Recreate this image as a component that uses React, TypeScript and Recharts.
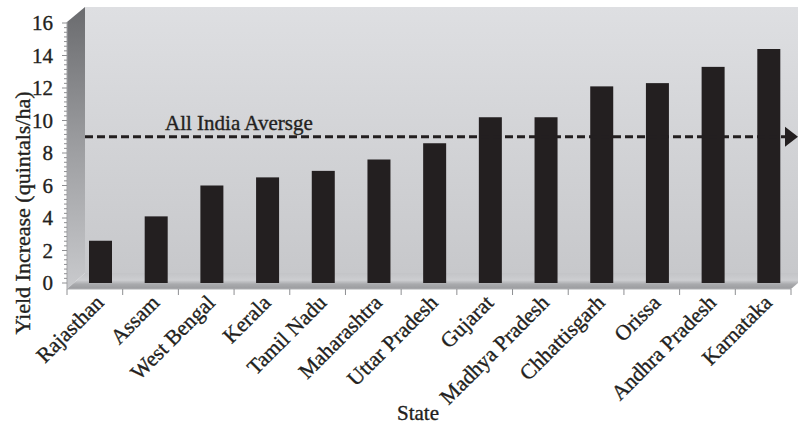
import React from 'react';
import { BarChart, Bar, XAxis, YAxis, ReferenceLine } from 'recharts';

// ---------------- data ----------------
const states = [
  'Rajasthan',
  'Assam',
  'West Bengal',
  'Kerala',
  'Tamil Nadu',
  'Maharashtra',
  'Uttar Pradesh',
  'Gujarat',
  'Madhya Pradesh',
  'Chhattisgarh',
  'Orissa',
  'Andhra Pradesh',
  'Karnataka',
];
const yieldIncrease = [2.6, 4.1, 6.0, 6.5, 6.9, 7.6, 8.6, 10.2, 10.2, 12.1, 12.3, 13.3, 14.4];
const allIndiaAverage = 9.0;
const yTicks = [0, 2, 4, 6, 8, 10, 12, 14, 16];
const averageLabel = 'All India Aversge';
const xAxisTitle = 'State';
const yAxisTitle = 'Yield Increase (quintals/ha)';

const data = states.map((s, i) => ({ state: s, value: yieldIncrease[i] }));

// ---------------- layout ----------------
const W = 798;
const H = 425;
const PLOT_LEFT = 67;
const PLOT_RIGHT = 791;
const PLOT_TOP = 23;
const PLOT_BOTTOM = 283;
const DEPTH_X = 6;
const WALL_X = 85;
const WALL_TOP = 7;
const FLOOR_BACK = 273;
const AXIS_FRONT = 289;
const BAND = (PLOT_RIGHT - PLOT_LEFT) / states.length;
const MAJOR_PX = ((PLOT_BOTTOM - PLOT_TOP) / 16) * 2;
const FONT_STYLE = { fontFamily: 'Liberation Serif, DejaVu Serif, serif' };
const INK = '#231f20';
const TICK_GRAY = '#8e8f92';
const TEXT_STROKE = 0.35;

const ShiftedBar = (props: any) => {
  const { x, y, width, height, fill } = props;
  if (height <= 0) return null;
  return <rect x={x + DEPTH_X} y={y} width={width} height={height} fill={fill} />;
};

const XTick = (props: any) => {
  const { x, y, payload, index } = props;
  const left = x - BAND / 2;
  const ax = x + DEPTH_X + 4;
  const ay = y + 15;
  return (
    <g>
      <line x1={left} x2={left} y1={y} y2={y + 6} stroke={TICK_GRAY} strokeWidth={1} />
      {index === states.length - 1 && (
        <line x1={x + BAND / 2} x2={x + BAND / 2} y1={y} y2={y + 6} stroke={TICK_GRAY} strokeWidth={1} />
      )}
      <text
        x={ax}
        y={ay}
        transform={`rotate(-45, ${ax}, ${ay})`}
        textAnchor="end"
        style={FONT_STYLE}
        fontSize={21.5}
        fill={INK}
        stroke={INK}
        strokeWidth={TEXT_STROKE}
      >
        {payload.value}
      </text>
    </g>
  );
};

const YTick = (props: any) => {
  const { y, payload } = props;
  const minor: number[] = [];
  if (payload.value < 16) {
    for (let k = 1; k < 7; k++) minor.push(y - (k * MAJOR_PX) / 7);
  }
  return (
    <g>
      <line x1={PLOT_LEFT - 5} x2={PLOT_LEFT} y1={y} y2={y} stroke={TICK_GRAY} strokeWidth={1} />
      {minor.map((my, i) => (
        <line key={i} x1={PLOT_LEFT - 3} x2={PLOT_LEFT} y1={my} y2={my} stroke={TICK_GRAY} strokeWidth={1} />
      ))}
      <text
        x={53}
        y={y}
        dy="0.35em"
        textAnchor="end"
        style={FONT_STYLE}
        fontSize={21}
        fill={INK}
        stroke={INK}
        strokeWidth={TEXT_STROKE}
      >
        {payload.value}
      </text>
    </g>
  );
};

const YTitle = () => (
  <text
    x={22}
    y={213}
    transform="rotate(-90, 22, 213)"
    textAnchor="middle"
    dominantBaseline="central"
    style={FONT_STYLE}
    fontSize={22}
    fill={INK}
    stroke={INK}
    strokeWidth={TEXT_STROKE}
  >
    {yAxisTitle}
  </text>
);

const XTitle = () => (
  <text
    x={418}
    y={420}
    textAnchor="middle"
    style={FONT_STYLE}
    fontSize={21}
    fill={INK}
    stroke={INK}
    strokeWidth={TEXT_STROKE}
  >
    {xAxisTitle}
  </text>
);

const AvgLine = (props: any) => {
  const { x1, y1, x2 } = props;
  const start = x1 + (WALL_X - PLOT_LEFT);
  const end = x2 - 6;
  return (
    <g>
      <line x1={start} x2={end} y1={y1} y2={y1} stroke={INK} strokeWidth={3} strokeDasharray="8 4" />
      <polygon points={`${end},${y1 - 10} ${W},${y1} ${end},${y1 + 10}`} fill={INK} />
      <text
        x={165}
        y={y1 - 7}
        style={FONT_STYLE}
        fontSize={21}
        fill={INK}
        stroke={INK}
        strokeWidth={TEXT_STROKE}
      >
        {averageLabel}
      </text>
    </g>
  );
};

const Background = () => (
  <svg width={W} height={H} style={{ position: 'absolute', left: 0, top: 0 }}>
    <defs>
      <linearGradient id="back" x1="0" y1="0" x2="0" y2="1">
        <stop offset="0" stopColor="#dedfe2" />
        <stop offset="1" stopColor="#c7c8cb" />
      </linearGradient>
      <linearGradient id="leftwall" x1="0" y1="0" x2="0" y2="1">
        <stop offset="0" stopColor="#6a6b6e" />
        <stop offset="0.5" stopColor="#9d9ea1" />
        <stop offset="1" stopColor="#c9cacd" />
      </linearGradient>
      <linearGradient id="floor" x1="0" y1="0" x2="0" y2="1">
        <stop offset="0" stopColor="#c3c4c7" />
        <stop offset="0.45" stopColor="#cdced1" />
        <stop offset="0.7" stopColor="#a9aaad" />
        <stop offset="1" stopColor="#9a9b9e" />
      </linearGradient>
    </defs>
    <rect x={WALL_X} y={WALL_TOP} width={W - WALL_X} height={FLOOR_BACK - WALL_TOP} fill="url(#back)" />
    <polygon
      points={`${PLOT_LEFT},22 ${WALL_X},${WALL_TOP} ${WALL_X},${FLOOR_BACK} ${PLOT_LEFT},${AXIS_FRONT}`}
      fill="url(#leftwall)"
    />
    <polygon
      points={`${PLOT_LEFT},${AXIS_FRONT} ${WALL_X},${FLOOR_BACK} ${W},${FLOOR_BACK} ${W},${AXIS_FRONT - 6} ${PLOT_RIGHT},${AXIS_FRONT}`}
      fill="url(#floor)"
    />
    <line x1={PLOT_LEFT} x2={PLOT_LEFT} y1={22} y2={AXIS_FRONT} stroke="#a3a4a7" strokeWidth={1} />
    <line x1={PLOT_LEFT} x2={PLOT_RIGHT} y1={AXIS_FRONT} y2={AXIS_FRONT} stroke="#b0b1b4" strokeWidth={1} />
  </svg>
);

export default function App() {
  return (
    <div style={{ position: 'absolute', left: 0, top: 0, width: W, height: H, background: '#ffffff' }}>
      <Background />
      <div style={{ position: 'absolute', left: 0, top: 0 }}>
        <BarChart
          width={W}
          height={H}
          data={data}
          margin={{ top: PLOT_TOP, right: W - PLOT_RIGHT, left: 0, bottom: 0 }}
          barSize={23}
        >
          <XAxis
            dataKey="state"
            interval={0}
            height={H - PLOT_BOTTOM}
            axisLine={false}
            tickLine={false}
            tickSize={AXIS_FRONT - PLOT_BOTTOM}
            tickMargin={0}
            tick={<XTick />}
            label={<XTitle />}
          />
          <YAxis
            type="number"
            domain={[0, 16]}
            ticks={yTicks}
            width={PLOT_LEFT}
            axisLine={false}
            tickLine={false}
            tickSize={5}
            tickMargin={9}
            tick={<YTick />}
            label={<YTitle />}
          />
          <ReferenceLine y={allIndiaAverage} shape={(p: any) => <AvgLine {...p} />} />
          <Bar dataKey="value" fill={INK} isAnimationActive={false} shape={<ShiftedBar />} />
        </BarChart>
      </div>
    </div>
  );
}
